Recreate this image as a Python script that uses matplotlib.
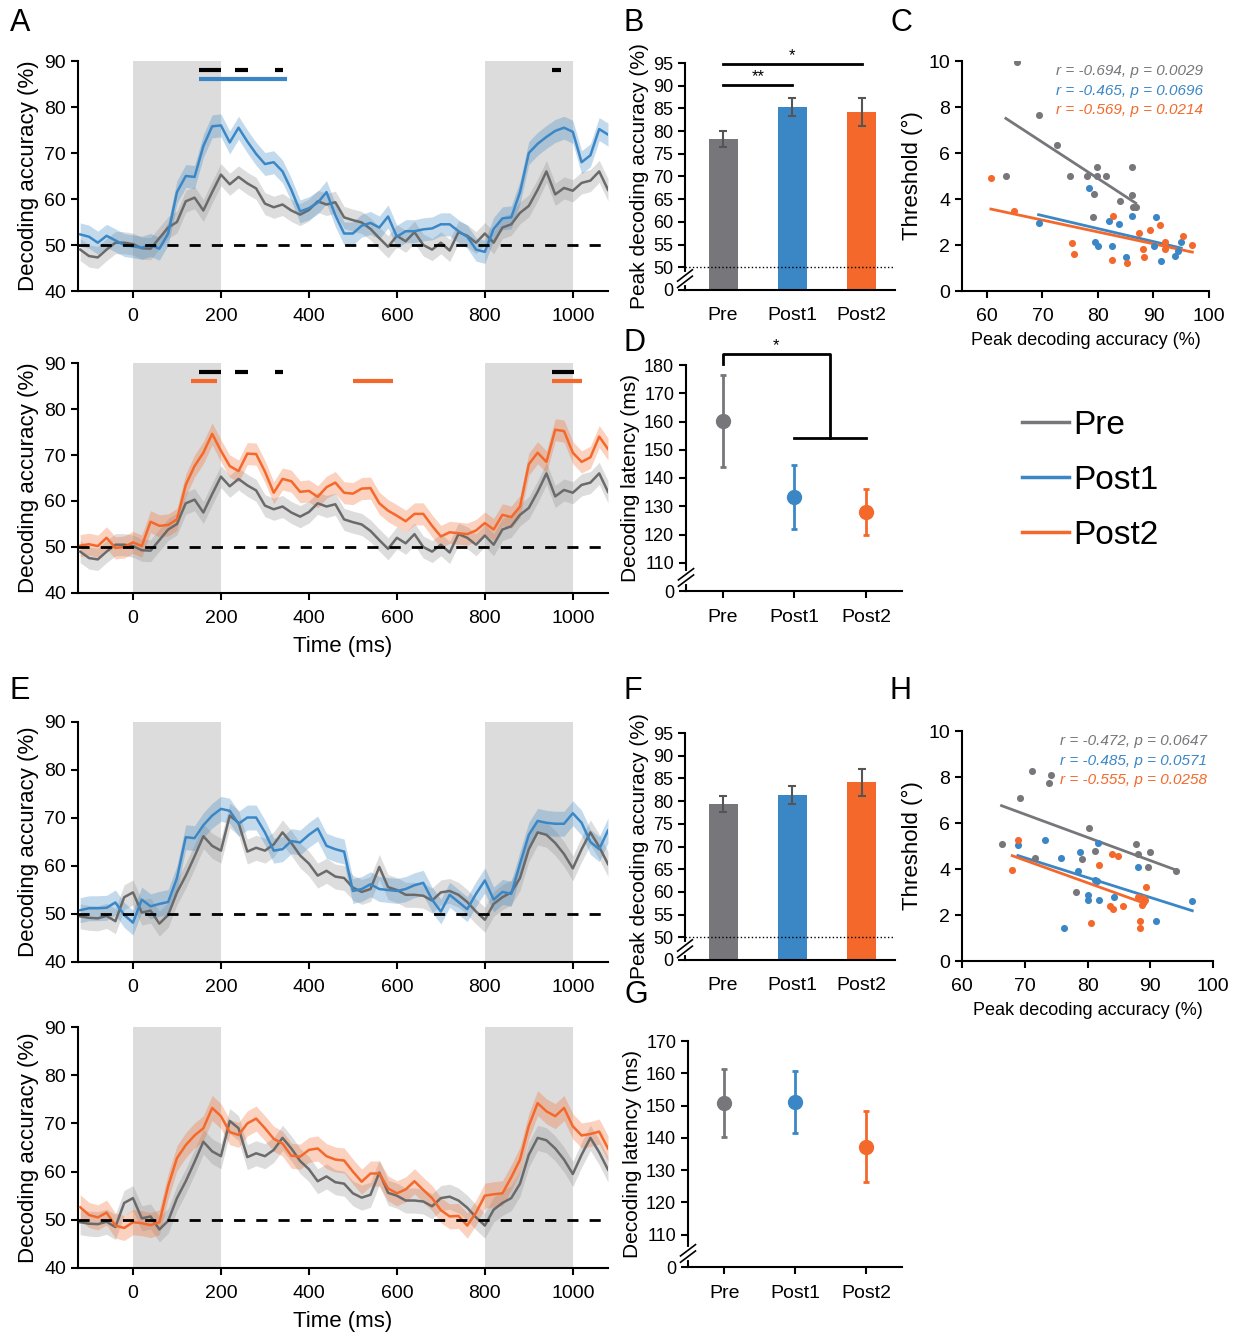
import numpy as np
import matplotlib
matplotlib.use('Agg')
import matplotlib.pyplot as plt
from matplotlib.lines import Line2D

plt.rcParams['font.family'] = ['Liberation Sans', 'DejaVu Sans']

GREY = '#77777b'
GREY_LINE = '#6a6a6a'
BLUE = '#3b87c6'
ORANGE = '#f4692b'

groups = ['Pre', 'Post1', 'Post2']
time_ms = np.arange(-120, 1081, 20)

# ---- time courses, experiment 1 (A) ----
acc1_pre = [49.0, 47.6, 47.3, 49.0, 50.5, 50.5, 50.2, 49.3, 49.2, 51.5,
            53.8, 55.0, 59.5, 60.3, 57.5, 61.5, 65.3, 63.2, 64.8, 63.4,
            62.3, 59.0, 58.2, 58.8, 57.5, 56.6, 57.6, 59.5, 58.8, 59.3,
            56.0, 55.4, 54.9, 53.5, 51.5, 49.6, 52.0, 50.8, 52.8, 50.0,
            49.0, 50.5, 48.8, 52.8, 52.0, 50.5, 52.5, 50.5, 53.8, 54.5,
            57.0, 58.5, 62.0, 66.0, 61.0, 62.4, 61.8, 63.5, 64.0, 66.0, 62.0]
acc1_post1 = [52.3, 51.8, 50.5, 52.0, 51.0, 50.0, 49.7, 49.4, 50.0, 49.2,
              52.5, 61.5, 65.0, 64.8, 71.5, 75.8, 76.0, 72.3, 75.5, 72.5,
              69.8, 67.6, 68.0, 66.0, 62.0, 57.3, 58.0, 59.2, 61.5, 56.5,
              52.5, 52.5, 54.2, 54.8, 53.8, 56.2, 51.8, 53.0, 53.0, 53.4,
              53.6, 54.5, 54.5, 53.0, 51.8, 49.0, 48.5, 53.5, 55.8, 56.0,
              61.5, 70.0, 72.0, 73.5, 74.8, 75.5, 74.6, 68.0, 69.5, 75.2, 74.0]
acc1_post2 = [50.3, 50.6, 50.2, 52.0, 49.8, 50.0, 51.0, 50.2, 55.5, 54.6,
              54.8, 56.0, 63.5, 67.6, 70.5, 74.6, 70.9, 67.6, 66.5, 70.3,
              70.2, 66.4, 61.8, 64.8, 64.3, 62.0, 62.2, 60.9, 63.0, 64.0,
              61.8, 61.6, 62.7, 62.8, 59.5, 57.9, 56.8, 55.6, 57.2, 57.2,
              54.6, 52.3, 53.2, 53.0, 52.8, 53.6, 55.2, 53.8, 57.0, 56.5,
              58.8, 68.0, 70.5, 68.5, 75.5, 75.2, 70.5, 68.5, 69.5, 74.0, 71.3]

# ---- time courses, experiment 2 (E) ----
acc2_pre = [49.5, 49.2, 49.1, 49.6, 48.5, 53.5, 54.5, 50.3, 50.7, 48.0,
            49.8, 54.5, 58.0, 62.0, 66.2, 64.2, 63.2, 70.5, 69.0, 63.0,
            63.8, 63.2, 64.5, 67.0, 64.8, 62.2, 60.5, 58.0, 59.0, 57.8,
            57.5, 55.5, 54.6, 55.2, 59.8, 55.6, 55.0, 54.0, 54.0, 53.8,
            52.8, 54.5, 54.8, 54.0, 52.5, 50.5, 48.8, 52.1, 53.5, 54.5,
            57.5, 63.5, 67.0, 66.5, 64.8, 62.5, 59.5, 63.5, 67.0, 64.0, 60.4]
acc2_post1 = [50.8, 51.2, 51.2, 51.3, 52.4, 49.8, 48.2, 53.0, 51.6, 52.1,
              52.5, 57.5, 66.0, 65.8, 68.5, 70.5, 71.9, 71.5, 68.8, 70.1,
              70.1, 67.0, 63.2, 63.5, 65.2, 64.9, 66.5, 67.8, 64.2, 63.5,
              63.0, 54.8, 55.2, 56.2, 55.2, 55.0, 54.8, 55.2, 56.0, 56.5,
              53.0, 50.5, 54.0, 52.5, 51.0, 54.2, 57.0, 53.0, 54.6, 54.2,
              60.5, 66.5, 69.4, 69.0, 68.8, 68.8, 71.0, 69.0, 65.0, 63.5, 67.4]
acc2_post2 = [52.6, 51.0, 50.5, 51.5, 48.8, 48.3, 49.5, 49.3, 48.9, 49.5,
              57.0, 62.8, 65.5, 67.5, 69.0, 73.2, 71.5, 68.2, 67.6, 70.0,
              71.0, 69.0, 66.8, 65.8, 63.3, 63.1, 64.5, 64.8, 63.2, 62.5,
              62.3, 60.0, 57.9, 59.6, 59.6, 56.5, 55.5, 56.3, 58.0, 56.2,
              54.5, 52.0, 50.7, 50.8, 48.8, 51.5, 55.0, 55.3, 55.5, 58.8,
              62.5, 69.5, 74.2, 72.5, 71.5, 73.2, 69.4, 67.5, 67.8, 68.3, 64.8]

# SEM half-widths of shaded bands
sem1_pre, sem1_post1, sem1_post2 = 2.4, 2.5, 2.4
sem2_pre, sem2_post1, sem2_post2 = 2.6, 2.6, 2.6

# significant clusters (ms)
sig_a_black = [(151, 199), (231, 261), (322, 341), (953, 973)]
sig_a_blue = [(151, 351)]
sig_b_black = [(151, 200), (231, 261), (322, 341), (953, 1002)]
sig_b_orange = [(131, 190), (501, 591), (953, 1022)]

# ---- peak accuracy bars ----
peak1 = [78.3, 85.4, 84.2]
peak1_err = [1.8, 2.0, 3.0]
peak2 = [79.4, 81.4, 84.1]
peak2_err = [1.8, 2.0, 3.0]

# ---- latency ----
lat1 = [160.3, 133.3, 128.0]
lat1_err = [16.3, 11.2, 8.0]
lat2 = [150.8, 151.1, 137.3]
lat2_err = [10.4, 9.6, 10.9]

# ---- scatter C ----
c_pre_x = [65.4, 63.4, 69.3, 72.6, 74.9, 78.1, 79.9, 79.9, 81.4, 79.3, 83.9, 86.1, 86.1, 86.3, 86.8, 79.1]
c_pre_y = [9.97, 5.02, 7.64, 6.33, 4.98, 5.02, 5.39, 5.02, 5.02, 4.22, 3.93, 5.39, 4.18, 3.64, 3.64, 3.20]
c_post1_x = [69.3, 78.4, 82.0, 83.8, 86.1, 90.4, 79.5, 80.0, 82.5, 85.0, 90.1, 91.3, 93.8, 94.5, 95.0]
c_post1_y = [2.94, 4.47, 3.06, 2.91, 3.28, 3.20, 2.15, 1.97, 1.97, 1.50, 1.94, 1.31, 1.53, 1.72, 2.14]
c_post2_x = [60.7, 64.8, 75.4, 75.6, 82.7, 82.6, 85.2, 87.3, 88.1, 88.2, 89.4, 91.2, 92.1, 92.1, 95.4, 97.0]
c_post2_y = [4.90, 3.46, 2.08, 1.63, 3.25, 1.35, 1.21, 2.52, 1.82, 1.48, 2.65, 2.87, 2.15, 1.82, 2.40, 1.99]
c_stats = ['r = -0.694, p = 0.0029', 'r = -0.465, p = 0.0696', 'r = -0.569, p = 0.0214']

# ---- scatter H ----
h_pre_x = [71.2, 74.2, 73.8, 69.2, 66.3, 71.6, 80.3, 81.2, 79.1, 78.2, 87.7, 88.1, 90.0, 89.7, 94.1]
h_pre_y = [8.27, 8.08, 7.72, 7.07, 5.09, 4.47, 5.77, 4.77, 4.44, 2.99, 5.09, 4.65, 4.75, 4.10, 3.90]
h_post1_x = [68.9, 73.3, 75.8, 78.8, 81.7, 78.5, 81.2, 81.5, 80.1, 80.1, 81.8, 84.2, 88.1, 96.7, 90.9, 76.2]
h_post1_y = [5.04, 5.26, 4.47, 4.73, 5.12, 3.93, 3.54, 3.47, 2.88, 2.66, 2.67, 2.80, 4.10, 2.63, 1.76, 1.43]
h_post2_x = [68.9, 68.0, 81.9, 83.9, 84.8, 89.3, 88.1, 88.8, 89.1, 88.7, 83.6, 84.0, 85.6, 80.5, 88.4, 88.4]
h_post2_y = [5.26, 3.96, 4.19, 4.65, 4.55, 3.21, 2.77, 2.73, 2.67, 2.44, 2.41, 2.24, 2.37, 1.66, 1.76, 1.45]
h_stats = ['r = -0.472, p = 0.0647', 'r = -0.485, p = 0.0571', 'r = -0.555, p = 0.0258']

W, H = 1237, 1332
fig = plt.figure(figsize=(W / 100, H / 100), dpi=100)


def add_ax(x0, y0, x1, y1):
    return fig.add_axes([x0 / W, 1 - y1 / H, (x1 - x0) / W, (y1 - y0) / H])


def style(ax, size=14):
    for s in ('top', 'right'):
        ax.spines[s].set_visible(False)
    for s in ('left', 'bottom'):
        ax.spines[s].set_linewidth(1.5)
    ax.tick_params(labelsize=size, width=1.5, length=5)


def axis_break(ax, yfrac):
    ax.plot([0, 0], [yfrac - 0.02, yfrac + 0.02], transform=ax.transAxes,
            color='white', lw=3, clip_on=False, zorder=5)
    for off in (-0.014, 0.014):
        ax.plot([-0.035, 0.035], [yfrac + off - 0.025, yfrac + off + 0.025],
                transform=ax.transAxes, color='k', lw=1.2, clip_on=False, zorder=6)


def time_panel(ax, series, sig_rows, xlabel=False):
    ax.axvspan(0, 200, color='#dcdcdc', lw=0, zorder=0)
    ax.axvspan(800, 1000, color='#dcdcdc', lw=0, zorder=0)
    for y, sem, col, band in series:
        y = np.array(y)
        ax.fill_between(time_ms, y - sem, y + sem, color=band, alpha=0.3, lw=0, zorder=2)
        ax.plot(time_ms, y, color=col, lw=1.8, zorder=3)
    ax.axhline(50, color='k', ls=(0, (4, 4)), lw=2, zorder=4)
    for level, spans, col in sig_rows:
        for a, b in spans:
            ax.plot([a, b], [level, level], color=col, lw=3, solid_capstyle='butt', zorder=5)
    ax.set_xlim(-125, 1080)
    ax.set_ylim(40, 90)
    ax.set_xticks(range(0, 1001, 200))
    ax.set_yticks(range(40, 91, 10))
    style(ax)
    ax.tick_params(axis='x', pad=7)
    ax.set_ylabel('Decoding accuracy (%)', fontsize=16, labelpad=4)
    if xlabel:
        ax.set_xlabel('Time (ms)', fontsize=16, labelpad=7)


def bar_panel(ax, vals, errs, brackets=False):
    x = np.arange(3)
    ax.bar(x, vals, width=0.42, color=[GREY, BLUE, ORANGE], zorder=2)
    ax.errorbar(x, vals, yerr=errs, fmt='none', ecolor='#555555', elinewidth=1.5,
                capsize=3, capthick=1.5, zorder=3)
    ax.axhline(50, color='k', ls=':', lw=1, zorder=4)
    ax.set_xlim(-0.55, 2.48)
    ax.set_ylim(45, 95)
    ax.set_yticks([45] + list(range(50, 96, 5)))
    ax.set_yticklabels(['0'] + [str(v) for v in range(50, 96, 5)])
    ax.set_xticks(x)
    ax.set_xticklabels(groups)
    style(ax, 13)
    ax.tick_params(axis='x', labelsize=14, length=0, pad=12)
    ax.set_ylabel('Peak decoding accuracy (%)', fontsize=15, labelpad=3)
    axis_break(ax, 0.05)
    if brackets:
        ax.plot([0, 1], [90.1, 90.1], color='k', lw=2, clip_on=False)
        ax.text(0.5, 90.3, '**', ha='center', va='bottom', fontsize=12)
        ax.plot([0, 2], [94.8, 94.8], color='k', lw=2, clip_on=False)
        ax.text(1.0, 95.0, '*', ha='center', va='bottom', fontsize=12)


def latency_panel(ax, vals, errs, top):
    cols = [GREY, BLUE, ORANGE]
    for i in range(3):
        ax.errorbar(i, vals[i], yerr=errs[i], fmt='o', color=cols[i], ms=10,
                    elinewidth=2, capsize=2.5, capthick=2)
    ax.set_xlim(-0.51, 2.5)
    ax.set_ylim(100, top)
    ax.set_yticks([100] + list(range(110, top + 1, 10)))
    ax.set_yticklabels(['0'] + [str(v) for v in range(110, top + 1, 10)])
    ax.set_xticks(range(3))
    ax.set_xticklabels(groups)
    style(ax, 13)
    ax.tick_params(axis='x', labelsize=14, pad=8)
    ax.set_ylabel('Decoding latency (ms)', fontsize=15, labelpad=3)
    axis_break(ax, 0.06)


def scatter_panel(ax, pts, stats, xmin):
    cols = [GREY, BLUE, ORANGE]
    ypos = [9.56, 8.7, 7.89]
    for (xs, ys), c, s, yp in zip(pts, cols, stats, ypos):
        xs = np.array(xs)
        ys = np.array(ys)
        ax.scatter(xs, ys, s=26, color=c, lw=0, zorder=3)
        k, b = np.polyfit(xs, ys, 1)
        xx = np.array([xs.min(), xs.max()])
        ax.plot(xx, k * xx + b, color=c, lw=2, zorder=2)
        ax.text(99, yp, s, color=c, ha='right', va='center', style='italic', fontsize=11)
    ax.set_xlim(xmin, 100)
    ax.set_ylim(0, 10)
    ax.set_xticks(range(60, 101, 10))
    ax.set_yticks(range(0, 11, 2))
    style(ax)
    ax.tick_params(axis='x', pad=7)
    ax.set_ylabel('Threshold (°)', fontsize=16, labelpad=4)
    ax.set_xlabel('Peak decoding accuracy (%)', fontsize=13, labelpad=5)


# A
axA1 = add_ax(78, 61, 608, 291)
time_panel(axA1, [(acc1_pre, sem1_pre, GREY_LINE, '#909090'),
                  (acc1_post1, sem1_post1, BLUE, BLUE)],
           [(88, sig_a_black, 'k'), (86, sig_a_blue, BLUE)])
axA2 = add_ax(78, 363, 608, 593)
time_panel(axA2, [(acc1_pre, sem1_pre, GREY_LINE, '#909090'),
                  (acc1_post2, sem1_post2, ORANGE, ORANGE)],
           [(88, sig_b_black, 'k'), (86, sig_b_orange, ORANGE)], xlabel=True)

# E
axE1 = add_ax(78, 722, 608, 962)
time_panel(axE1, [(acc2_pre, sem2_pre, GREY_LINE, '#909090'),
                  (acc2_post1, sem2_post1, BLUE, BLUE)], [])
axE2 = add_ax(78, 1027, 608, 1268)
time_panel(axE2, [(acc2_pre, sem2_pre, GREY_LINE, '#909090'),
                  (acc2_post2, sem2_post2, ORANGE, ORANGE)], [], xlabel=True)

# B, F
axB = add_ax(685, 63, 895, 290)
bar_panel(axB, peak1, peak1_err, brackets=True)
axF = add_ax(685, 733, 895, 960)
bar_panel(axF, peak2, peak2_err)

# D, G
axD = add_ax(686, 365, 902, 591)
latency_panel(axD, lat1, lat1_err, 180)
axD.plot([0, 0, 1.5, 1.5], [180.4, 183.9, 183.9, 154.3], color='k', lw=2, clip_on=False)
axD.plot([1, 2], [154.3, 154.3], color='k', lw=2, clip_on=False)
axD.text(0.75, 184.2, '*', ha='center', va='bottom', fontsize=12)
axG = add_ax(688, 1041, 902, 1267)
latency_panel(axG, lat2, lat2_err, 170)

# C, H
axC = add_ax(962, 61, 1209, 291)
scatter_panel(axC, [(c_pre_x, c_pre_y), (c_post1_x, c_post1_y), (c_post2_x, c_post2_y)],
              c_stats, 55.5)
axH = add_ax(962, 731, 1213, 961)
scatter_panel(axH, [(h_pre_x, h_pre_y), (h_post1_x, h_post1_y), (h_post2_x, h_post2_y)],
              h_stats, 60)

# legend
handles = [Line2D([], [], color=c, lw=2.5) for c in (GREY, BLUE, ORANGE)]
fig.legend(handles, groups, loc='upper left', bbox_to_anchor=(992 / W, 1 - 380 / H),
           frameon=False, fontsize=24, handlelength=1.4, handletextpad=0.15, labelspacing=0.72)

# panel letters
for letter, (px, py) in {'A': (10, 8), 'B': (624, 8), 'C': (890, 8), 'D': (624, 328),
                         'E': (10, 676), 'F': (624, 676), 'H': (890, 676), 'G': (624, 980)}.items():
    fig.text(px / W, 1 - py / H, letter, fontsize=22, va='top', ha='left')

fig.savefig('out.png', dpi=100)
